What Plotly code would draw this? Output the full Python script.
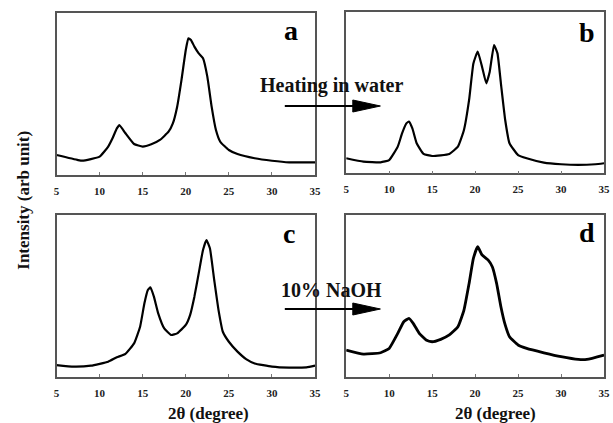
import plotly.graph_objects as go

# 2-theta positions and relative intensities
a_x = [5, 7.5, 8, 10, 11, 11.5, 12, 12.3, 13, 14, 15, 16, 17, 18, 18.5, 19, 19.5, 20, 20.3, 20.6,
       21, 21.5, 22, 22.5, 23, 23.5, 24, 25, 26, 28, 30, 32, 35]
a_y = [0.123, 0.092, 0.088, 0.113, 0.175, 0.226, 0.287, 0.308, 0.257, 0.191, 0.175, 0.189, 0.216,
       0.267, 0.318, 0.421, 0.585, 0.770, 0.842, 0.832, 0.791, 0.749, 0.719, 0.606, 0.421, 0.277,
       0.205, 0.154, 0.129, 0.103, 0.088, 0.078, 0.078]

b_x = [5, 7, 9, 10, 11, 11.5, 12, 12.3, 12.7, 13.2, 14, 15, 17, 18, 18.7, 19.3, 19.8, 20.3, 20.8,
       21.3, 21.7, 22.2, 22.6, 23, 23.5, 24, 25, 26, 28, 30, 32, 34, 35]
b_y = [0.093, 0.072, 0.068, 0.082, 0.165, 0.247, 0.309, 0.320, 0.278, 0.186, 0.120, 0.107, 0.120,
       0.165, 0.268, 0.454, 0.680, 0.753, 0.660, 0.557, 0.629, 0.794, 0.742, 0.557, 0.330, 0.186,
       0.113, 0.093, 0.066, 0.056, 0.052, 0.056, 0.062]

c_x = [5, 7, 9, 11, 12, 13, 14, 14.7, 15.2, 15.6, 15.9, 16.3, 16.8, 17.5, 18.3, 19, 20, 20.5, 21,
       21.5, 22, 22.4, 22.8, 23.3, 23.8, 24.3, 25, 26, 27, 28, 30, 32, 34, 35]
c_y = [0.072, 0.062, 0.068, 0.093, 0.120, 0.141, 0.206, 0.309, 0.454, 0.536, 0.553, 0.495, 0.392,
       0.299, 0.258, 0.268, 0.320, 0.381, 0.495, 0.639, 0.784, 0.845, 0.794, 0.598, 0.412, 0.278,
       0.216, 0.155, 0.109, 0.082, 0.062, 0.056, 0.058, 0.068]

d_x = [5, 7, 9, 10, 11, 11.7, 12.3, 12.8, 13.5, 14.3, 15, 16, 17, 18, 18.7, 19.3, 19.8, 20.3, 20.8,
       21.5, 22, 22.5, 23, 23.5, 24, 25, 26, 28, 30, 32, 33, 35]
d_y = [0.165, 0.140, 0.148, 0.175, 0.268, 0.340, 0.361, 0.330, 0.268, 0.227, 0.216, 0.231, 0.258,
       0.309, 0.412, 0.577, 0.732, 0.804, 0.753, 0.722, 0.680, 0.577, 0.433, 0.320, 0.247, 0.196,
       0.175, 0.148, 0.124, 0.107, 0.107, 0.134]

panel_labels = ["a", "b", "c", "d"]
tick_vals = [5, 10, 15, 20, 25, 30, 35]
x_title = "2θ (degree)"
y_title = "Intensity (arb unit)"
arrow_texts = ["Heating in water", "10% NaOH"]

W, H = 613, 423
SERIF = "Liberation Serif, Times New Roman, serif"

def px(x):
    return x / W

def py(y):
    return 1 - y / H

# panel boxes in pixels (left, right, top, bottom)
boxes = [(54.3, 316.7, 12.7, 175.0),
         (348.3, 610.0, 11.7, 173.3),
         (54.3, 316.7, 215.0, 376.7),
         (348.3, 610.0, 215.0, 376.7)]

series = [(a_x, a_y), (b_x, b_y), (c_x, c_y), (d_x, d_y)]
widths = [2.2, 2.2, 2.2, 2.8]

fig = go.Figure()
layout = dict(width=W, height=H, margin=dict(l=0, r=0, t=0, b=0),
              paper_bgcolor="white", plot_bgcolor="white", showlegend=False)

for i, ((xs, ys), (l, r, t, b)) in enumerate(zip(series, boxes)):
    n = "" if i == 0 else str(i + 1)
    fig.add_trace(go.Scatter(x=xs, y=ys, mode="lines",
                             line=dict(color="black", width=widths[i], shape="spline", smoothing=0.4),
                             xaxis="x" + n, yaxis="y" + n, hoverinfo="skip"))
    layout["xaxis" + n] = dict(domain=[px(l), px(r)], range=[5, 35], anchor="y" + n,
                               tickvals=tick_vals, ticks="inside", ticklen=3, tickcolor="#777",
                               showline=True, mirror=True, linecolor="#555", linewidth=1.5,
                               showgrid=False, zeroline=False, ticklabelstandoff=5,
                               tickfont=dict(family=SERIF, size=11, color="#222", weight="bold"))
    layout["yaxis" + n] = dict(domain=[py(b), py(t)], range=[0, 1], anchor="x" + n,
                               showticklabels=False, ticks="",
                               showline=True, mirror=True, linecolor="#555", linewidth=1.5,
                               showgrid=False, zeroline=False)

fig.update_layout(**layout)

ann = []
label_pos = [(292, 31), (593, 32), (290, 233), (593, 232)]
for lab, (x, y) in zip(panel_labels, label_pos):
    ann.append(dict(text=lab, x=px(x), y=py(y), xref="paper", yref="paper",
                    showarrow=False, xanchor="center", yanchor="middle",
                    font=dict(family=SERIF, size=28, color="black", weight="bold")))

ann.append(dict(text=arrow_texts[0], x=px(333), y=py(86), xref="paper", yref="paper",
                showarrow=False, xanchor="center", yanchor="middle",
                font=dict(family=SERIF, size=20, color="#111", weight="bold")))
ann.append(dict(text=arrow_texts[1], x=px(333), y=py(290), xref="paper", yref="paper",
                showarrow=False, xanchor="center", yanchor="middle",
                font=dict(family=SERIF, size=20, color="#111", weight="bold")))

ann.append(dict(text=y_title, x=px(20), y=py(200), xref="paper", yref="paper",
                showarrow=False, textangle=-90, xanchor="center", yanchor="middle",
                font=dict(family=SERIF, size=17, color="#111", weight="bold")))
for xc in (209, 500):
    ann.append(dict(text=x_title, x=px(xc), y=py(413), xref="paper", yref="paper",
                    showarrow=False, xanchor="center", yanchor="middle",
                    font=dict(family=SERIF, size=17, color="#111", weight="bold")))

shapes = []
for yl in (106, 309):
    shapes.append(dict(type="line", xref="paper", yref="paper",
                       x0=px(286), x1=px(360), y0=py(yl), y1=py(yl),
                       line=dict(color="black", width=2), layer="above"))
    path = "M {} {} L {} {} L {} {} Z".format(px(355), py(yl - 6), px(383), py(yl), px(355), py(yl + 6))
    shapes.append(dict(type="path", xref="paper", yref="paper", path=path,
                       fillcolor="black", line=dict(color="black", width=1), layer="above"))

fig.update_layout(annotations=ann, shapes=shapes)
fig.write_html("out.html")
